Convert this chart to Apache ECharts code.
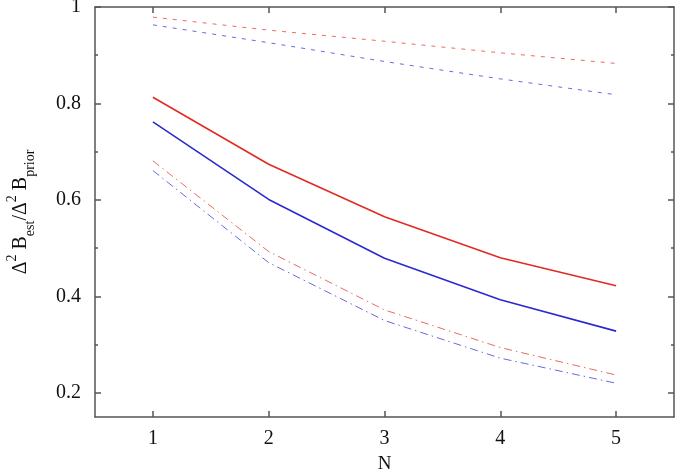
<!DOCTYPE html>
<html>
<head>
<meta charset="utf-8">
<script src="https://cdn.jsdelivr.net/npm/echarts@6/dist/echarts.min.js"></script>
<style>
  html, body { margin: 0; padding: 0; background: #ffffff; }
  #chart { width: 675px; height: 474px; }
</style>
</head>
<body>
<div id="chart"></div>
<script>
// N values on the x axis
const nValues = [1, 2, 3, 4, 5];
const xTicks = [1, 2, 3, 4, 5];
const yTicks = [0.2, 0.4, 0.6, 0.8, 1];
const yMinorTicks = [0.3, 0.5, 0.7, 0.9];

// ratios
const redDashed = [0.979, 0.952, 0.929, 0.905, 0.883];
const blueDashed = [0.963, 0.926, 0.887, 0.851, 0.818];
const redSolid = [0.813, 0.674, 0.565, 0.480, 0.422];
const blueSolid = [0.762, 0.601, 0.479, 0.393, 0.328];
const redDashDot = [0.681, 0.493, 0.372, 0.294, 0.237];
const blueDashDot = [0.661, 0.470, 0.350, 0.272, 0.220];

const RED = "#e32a22";
const BLUE = "#2a2ad0";
const AXIS = "#555555";
const FONT = "Liberation Serif";

function pairs(arr) {
  return nValues.map((n, i) => [n, arr[i]]);
}

function line(data, color, type, width, opacity) {
  return {
    type: "line",
    data: pairs(data),
    symbol: "none",
    silent: true,
    lineStyle: { color: color, type: type, width: width, opacity: opacity }
  };
}

const chart = echarts.init(document.getElementById("chart"));

const yBase = {
  type: "value",
  min: 0.15,
  max: 1,
  splitLine: { show: false },
  axisLine: { show: true, onZero: false, lineStyle: { color: AXIS, width: 1.5 } }
};

const xBase = {
  type: "value",
  min: 0.5,
  max: 5.5,
  splitLine: { show: false },
  axisLine: { show: true, onZero: false, lineStyle: { color: AXIS, width: 1.5 } }
};

chart.setOption({
  animation: false,
  backgroundColor: "#ffffff",
  grid: { left: 95, right: 1, top: 7, bottom: 57, containLabel: false, outerBoundsMode: "none" },
  xAxis: [
    Object.assign({}, xBase, {
      position: "bottom",
      name: "N",
      nameLocation: "middle",
      nameGap: 38,
      nameTextStyle: { fontFamily: FONT, fontSize: 19, color: "#111" },
      axisTick: { show: true, inside: true, length: 6, customValues: xTicks, lineStyle: { color: AXIS, width: 1.5 } },
      axisLabel: { show: true, customValues: xTicks, margin: 12, fontFamily: FONT, fontSize: 20, color: "#111" }
    }),
    Object.assign({}, xBase, {
      position: "top",
      axisTick: { show: true, inside: true, length: 6, customValues: xTicks, lineStyle: { color: AXIS, width: 1.5 } },
      axisLabel: { show: false }
    })
  ],
  yAxis: [
    Object.assign({}, yBase, {
      position: "left",
      name: "{n|Δ}{sup|2}{n| B}{sub|est}{n|/Δ}{sup|2}{n| B}{sub|prior}",
      nameLocation: "middle",
      nameRotate: 90,
      nameGap: 58,
      nameTextStyle: {
        fontFamily: FONT,
        color: "#111",
        rich: {
          n: { fontFamily: FONT, fontSize: 20, color: "#111", verticalAlign: "middle", lineHeight: 32 },
          sup: { fontFamily: FONT, fontSize: 14, color: "#111", verticalAlign: "top", lineHeight: 32, padding: [0, 0, 12, 0] },
          sub: { fontFamily: FONT, fontSize: 14, color: "#111", verticalAlign: "bottom", lineHeight: 32, padding: [12, 0, 0, 0] }
        }
      },
      axisTick: { show: true, inside: true, length: 6, customValues: yTicks, lineStyle: { color: AXIS, width: 1.5 } },
      axisLabel: {
        show: true,
        customValues: yTicks,
        margin: 14,
        fontFamily: FONT,
        fontSize: 20,
        color: "#111",
        formatter: v => String(Math.round(v * 10) / 10)
      }
    }),
    Object.assign({}, yBase, {
      position: "right",
      axisTick: { show: true, inside: true, length: 6, customValues: yTicks, lineStyle: { color: AXIS, width: 1.5 } },
      axisLabel: { show: false }
    }),
    // minor ticks on both sides
    Object.assign({}, yBase, {
      position: "left",
      axisLine: { show: false },
      axisTick: { show: true, inside: true, length: 3, customValues: yMinorTicks, lineStyle: { color: AXIS, width: 1.5 } },
      axisLabel: { show: false }
    }),
    Object.assign({}, yBase, {
      position: "right",
      axisLine: { show: false },
      axisTick: { show: true, inside: true, length: 3, customValues: yMinorTicks, lineStyle: { color: AXIS, width: 1.5 } },
      axisLabel: { show: false }
    })
  ],
  series: [
    line(redDashed, RED, [4, 6], 1, 0.7),
    line(blueDashed, BLUE, [4, 6], 1, 0.7),
    line(redSolid, RED, "solid", 1.6, 1),
    line(blueSolid, BLUE, "solid", 1.6, 1),
    line(redDashDot, RED, [8, 4, 1.5, 4], 1, 0.7),
    line(blueDashDot, BLUE, [8, 4, 1.5, 4], 1, 0.7)
  ]
});
</script>
</body>
</html>
